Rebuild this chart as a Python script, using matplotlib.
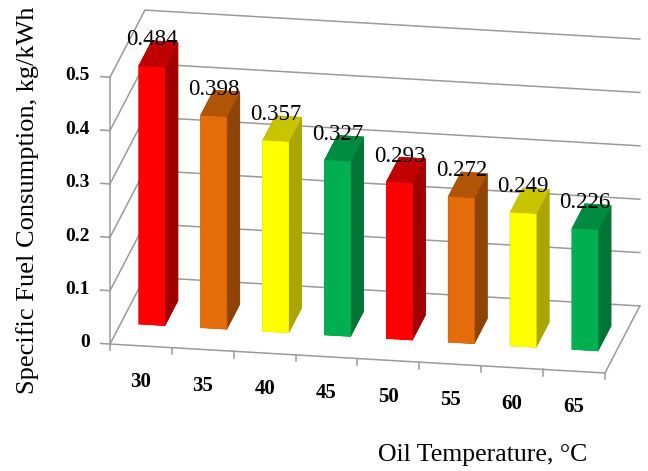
import matplotlib
matplotlib.use('Agg')

import numpy as np
import matplotlib.pyplot as plt
from mpl_toolkits.mplot3d import proj3d

# --- data ---
temps = ['30', '35', '40', '45', '50', '55', '60', '65']
sfc = [0.484, 0.398, 0.357, 0.327, 0.293, 0.272, 0.249, 0.226]
z_ticks = [0, 0.1, 0.2, 0.3, 0.4, 0.5]
z_tick_labels = ['0', '0.1', '0.2', '0.3', '0.4', '0.5']

# --- style ---
FRONT = ['#FF0000', '#E46C0A', '#FFFF00', '#00B050']   # red, orange, yellow, green
TOP = ['#C00000', '#B05408', '#C8C400', '#008C40']
SIDE = ['#A00000', '#8E4409', '#A9A600', '#007535']
GRID = '#9A9A9A'
FONT = 'Liberation Serif'
BAR_W = 0.42
BAR_D = 0.37
Z_MAX = 0.5

plt.rcParams['font.family'] = FONT

fig = plt.figure(figsize=(6.48, 4.71), dpi=100)
# big square 3D axes so nothing gets clipped at its edges
ax = fig.add_axes([0.0239, -0.1699, 1.0802, 1.4862], projection='3d',
                  computed_zorder=False)
ax.set_proj_type('ortho')
ax.view_init(elev=19.6, azim=-80.1)

n = len(temps)
ax.set_xlim(0, n)
ax.set_ylim(0, 1)
ax.set_zlim(0, Z_MAX)
ax.set_box_aspect((502.5, 203, 283.3), zoom=0.848)
ax.set_axis_off()

M = ax.get_proj()


def label_at(x, y, z, s, **kw):
    """Place flat 2D text at the projected position of a 3D point."""
    px, py, _ = proj3d.proj_transform(x, y, z, M)
    return ax.text2D(px, py, s, **kw)


# walls: gridlines on the left and back walls
for lvl in z_ticks:
    ax.plot([0, 0, n], [0, 1, 1], [lvl, lvl, lvl], color=GRID, lw=1.1, zorder=1)
ax.plot([0, 0], [0, 0], [0, Z_MAX], color=GRID, lw=1.1, zorder=1)
ax.plot([0, n, n], [0, 0, 1], [0, 0, 0], color=GRID, lw=1.1, zorder=1)

# value axis ticks and labels
for lvl, lab in zip(z_ticks, z_tick_labels):
    ax.plot([0, -0.15], [0, 0], [lvl, lvl], color=GRID, lw=1.1, zorder=1)
    label_at(-0.33, 0, lvl, lab, ha='right', va='center', fontsize=14,
             fontweight='bold', zorder=5)

# category ticks and labels
for b in range(n + 1):
    ax.plot([b, b], [0, 0], [0, -0.012], color=GRID, lw=1.1, zorder=1)
for i, t in enumerate(temps):
    label_at(i + 0.5, 0, -0.068, t, ha='center', va='center', fontsize=15,
             fontweight='bold', zorder=5)

# bars: faces ordered bottom, top, front, back, left, right
xs = np.arange(n) + 0.5 - BAR_W / 2
ys = np.full(n, 0.5 - BAR_D / 2)
face_colors = []
for i in range(n):
    k = i % 4
    face_colors += [TOP[k], TOP[k], FRONT[k], SIDE[k], SIDE[k], SIDE[k]]
bars = ax.bar3d(xs, ys, np.zeros(n), BAR_W, BAR_D, sfc, color=face_colors,
                shade=False, zorder=3, linewidth=0.5)
bars.set_edgecolor(face_colors)

# value labels above the front of each bar
for i, v in enumerate(sfc):
    label_at(i + 0.5, 0.5 - BAR_D / 2, v + 0.05, f'{v:.3f}', ha='center',
             va='center', fontsize=16.5, zorder=6)

fig.text(0.043, 0.575, 'Specific Fuel Consumption, kg/kWh', rotation=90,
         ha='center', va='center', fontsize=19)
fig.text(0.745, 0.034, 'Oil Temperature, °C', ha='center', va='center',
         fontsize=18.5)

fig.savefig('out.png', dpi=100)
